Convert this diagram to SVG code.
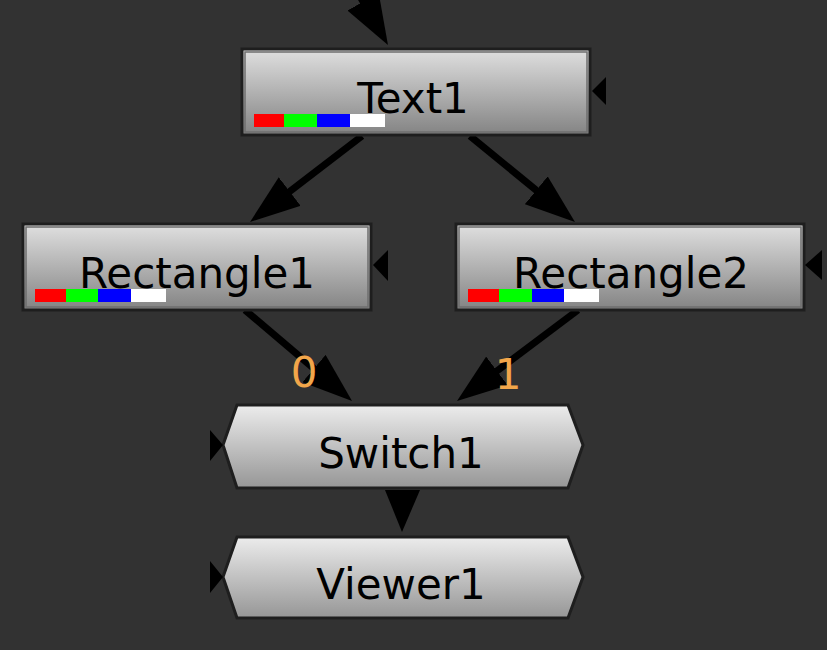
<svg xmlns="http://www.w3.org/2000/svg" width="827" height="650" viewBox="0 0 827 650">
<defs>
<linearGradient id="gRect" x1="0" y1="0" x2="0" y2="1">
<stop offset="0" stop-color="#e0e0e0"/>
<stop offset="1" stop-color="#838383"/>
</linearGradient>
<linearGradient id="gHex" x1="0" y1="0" x2="0" y2="1">
<stop offset="0" stop-color="#ececec"/>
<stop offset="1" stop-color="#969696"/>
</linearGradient>
<marker id="arr" markerUnits="userSpaceOnUse" markerWidth="50" markerHeight="36" viewBox="0 0 50 36" refX="30" refY="18" orient="auto">
<path d="M0,0 L50,18 L0,36 Z" fill="#000"/>
</marker>
</defs>
<style>
.bg{fill:#323232}
.box{fill:url(#gRect);stroke:#1e1e1e;stroke-width:3}
.inner{fill:none;stroke:#6e6e6e;stroke-width:1.5}
.hex{fill:url(#gHex);stroke:#1e1e1e;stroke-width:3}
.lbl{font-family:"DejaVu Sans",Verdana,sans-serif;font-size:42px;fill:#000;text-anchor:middle}
.num{font-family:"DejaVu Sans",Verdana,sans-serif;font-size:42px;fill:#f2a64a;text-anchor:middle}
.edge{stroke:#000;stroke-width:7;fill:none;marker-end:url(#arr)}
.tri{fill:#000}
</style>
<rect class="bg" x="0" y="0" width="827" height="650"/>

<g id="connectors">
<line class="edge" x1="338" y1="-42" x2="378" y2="27.7"/>
<line class="edge" x1="362" y1="136" x2="265.9" y2="209.8"/>
<line class="edge" x1="470" y1="136" x2="559.5" y2="209.3"/>
<line class="edge" x1="245" y1="310" x2="336.8" y2="388"/>
<line class="edge" x1="578" y1="310" x2="473" y2="389"/>
<polygon class="tri" points="385,490 420,490 402,532"/>
</g>

<g id="Text1">
<rect class="box" x="242" y="49" width="348" height="86"/>
<rect class="inner" x="245" y="52" width="342" height="80"/>
<text class="lbl" x="413" y="113">Text1</text>
<rect x="254" y="114" width="30" height="13" fill="#ff0000"/>
<rect x="284" y="114" width="33" height="13" fill="#00ff00"/>
<rect x="317" y="114" width="33" height="13" fill="#0000ff"/>
<rect x="350" y="114" width="35" height="13" fill="#ffffff"/>
<polygon class="tri" points="592,91 606,77 606,105"/>
</g>

<g id="Rectangle1">
<rect class="box" x="23" y="224" width="348" height="86"/>
<rect class="inner" x="26" y="227" width="342" height="80"/>
<text class="lbl" x="197" y="288">Rectangle1</text>
<rect x="35" y="289" width="31" height="13" fill="#ff0000"/>
<rect x="66" y="289" width="32" height="13" fill="#00ff00"/>
<rect x="98" y="289" width="33" height="13" fill="#0000ff"/>
<rect x="131" y="289" width="35" height="13" fill="#ffffff"/>
<polygon class="tri" points="373,265 388,250 388,281"/>
</g>

<g id="Rectangle2">
<rect class="box" x="456" y="224" width="348" height="86"/>
<rect class="inner" x="459" y="227" width="342" height="80"/>
<text class="lbl" x="631" y="288">Rectangle2</text>
<rect x="468" y="289" width="31" height="13" fill="#ff0000"/>
<rect x="499" y="289" width="33" height="13" fill="#00ff00"/>
<rect x="532" y="289" width="32" height="13" fill="#0000ff"/>
<rect x="564" y="289" width="35" height="13" fill="#ffffff"/>
<polygon class="tri" points="805,265 822,250 822,280"/>
</g>

<g id="Switch1">
<polygon class="hex" points="237,405 568,405 583,445 568,488 237,488 223,445"/>
<text class="lbl" x="401" y="468">Switch1</text>
<polygon class="tri" points="210,430 210,461 223,445"/>
</g>

<g id="Viewer1">
<polygon class="hex" points="237,537 568,537 583,577 568,618 237,618 223,577"/>
<text class="lbl" x="401" y="599">Viewer1</text>
<polygon class="tri" points="210,561 210,593 223,577"/>
</g>

<g id="edge-labels">
<text class="num" x="304" y="387">0</text>
<text class="num" x="508" y="389">1</text>
</g>
</svg>
